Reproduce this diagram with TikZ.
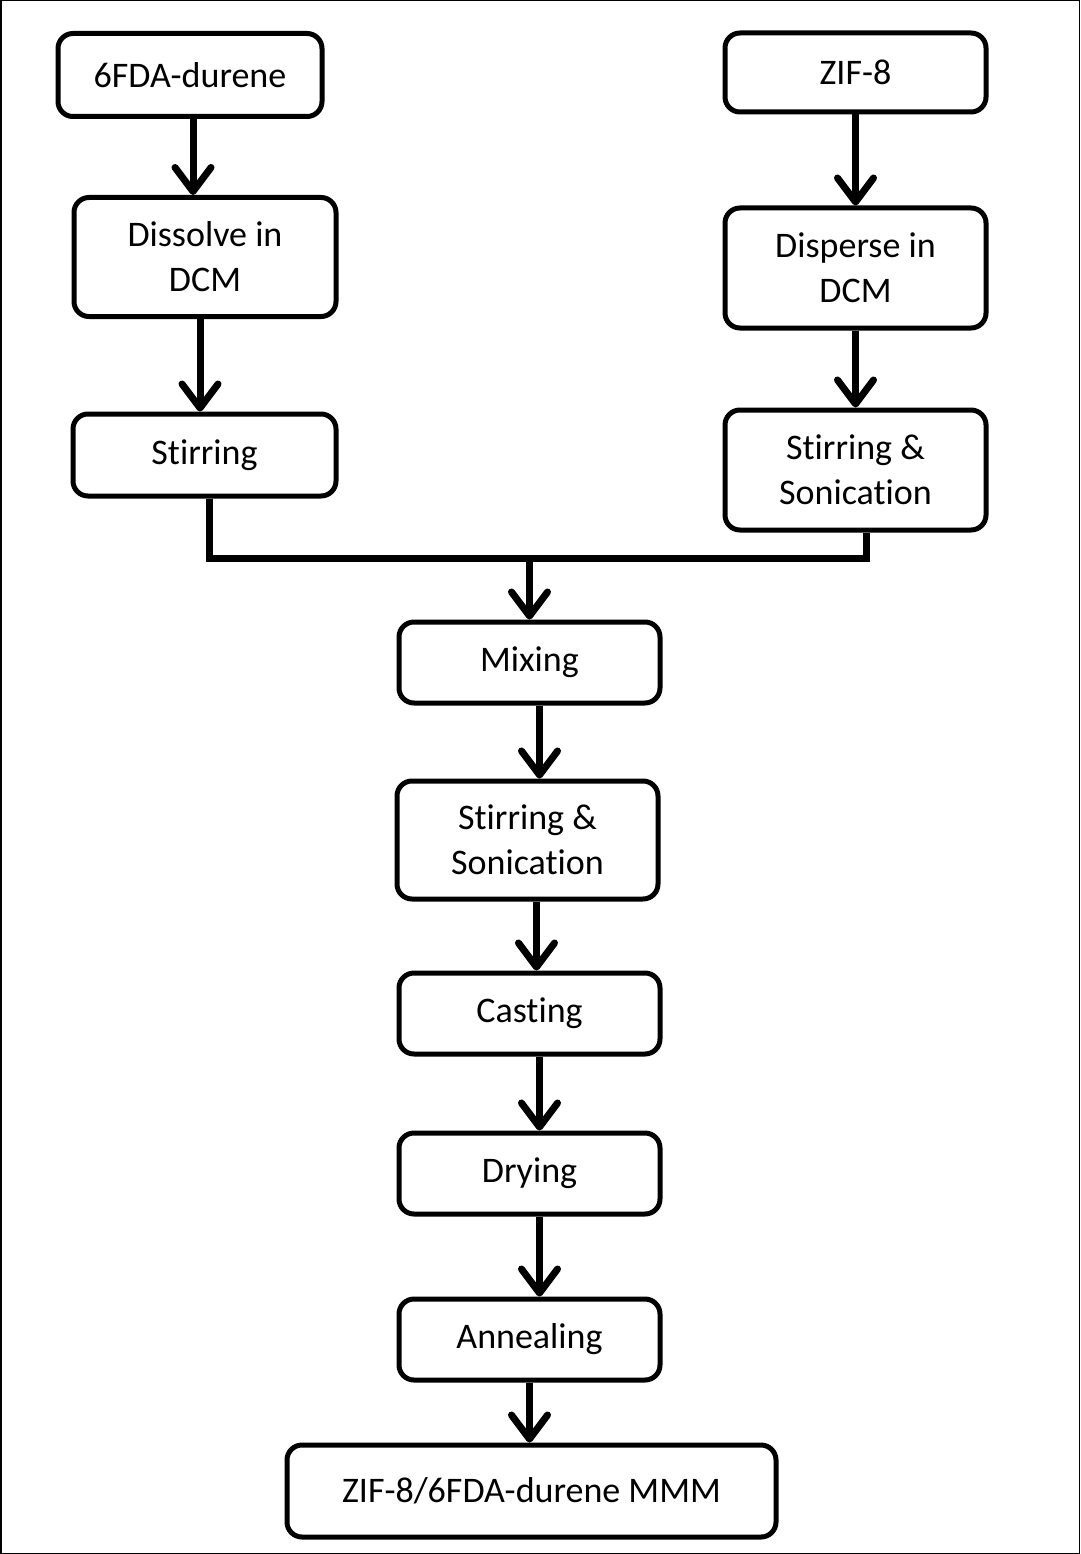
\documentclass[tikz,border=0pt]{standalone}
\usepackage{fontspec}
\setmainfont{Carlito}[Ligatures={NoCommon,NoRequired,NoContextual}]
\usetikzlibrary{arrows.meta}
% keep "t" and "i" as separate glyphs
\newcommand{\ti}{t\kern0pt i}
\tikzset{
  stage/.style={draw=black, line width=5pt, rounded corners=15pt, fill=white,
    align=center, inner sep=0pt,
    font=\fontsize{36}{45}\selectfont},
  flow/.style={line width=7pt, -{Straight Barb[length=24pt,width=36pt,line width=7pt,round]}},
  joint/.style={line width=7pt}
}
\begin{document}
\begin{tikzpicture}[x=1pt,y=-1pt]
  % page frame
  \draw[line width=1.5pt, fill=white] (0.75,0.75) rectangle (1079.25,1553.25);
  \useasboundingbox (0,0) rectangle (1080,1554);

  % polymer branch
  \node[stage, minimum width=264pt, minimum height=83pt] (fda) at (190,75) {6FDA-durene};
  \node[stage, minimum width=262pt, minimum height=119pt] (dis) at (205,257) {Dissolve in\\DCM};
  \node[stage, minimum width=263pt, minimum height=82pt] (stl) at (204.5,455) {S\ti rring};

  % filler branch
  \node[stage, minimum width=261pt, minimum height=79pt] (zif) at (855.5,72.5) {ZIF-8};
  \node[stage, minimum width=261pt, minimum height=120pt] (dsp) at (855.5,268) {Disperse in\\DCM};
  \node[stage, minimum width=261pt, minimum height=120pt] (ssr) at (855.5,470) {S\ti rring \&\\Sonica\ti on};

  % common route
  \node[stage, minimum width=261pt, minimum height=81pt] (mix) at (529.5,662.5) {Mixing};
  \node[stage, minimum width=261pt, minimum height=118pt] (ssm) at (527.5,840) {S\ti rring \&\\Sonica\ti on};
  \node[stage, minimum width=261pt, minimum height=81pt] (cast) at (529.5,1013.5) {Cas\ti ng};
  \node[stage, minimum width=261pt, minimum height=81pt] (dry) at (529.5,1173.5) {Drying};
  \node[stage, minimum width=261pt, minimum height=81pt] (ann) at (529.5,1339.5) {Annealing};
  \node[stage, minimum width=489pt, minimum height=92pt] (mmm) at (531.5,1491) {ZIF-8/6FDA-durene MMM};

  % connectors
  \draw[flow] ([xshift=3pt]fda.south) -- ([xshift=3pt]fda.south |- dis.north);
  \draw[flow] ([xshift=-5pt]dis.south) -- ([xshift=-5pt]dis.south |- stl.north);
  \draw[flow] (zif.south) -- (zif.south |- dsp.north);
  \draw[flow] (dsp.south) -- (dsp.south |- ssr.north);

  \coordinate (jl) at ([xshift=4.5pt]stl.south |- 0,558);
  \coordinate (jr) at ([xshift=10.5pt]ssr.south |- 0,558);
  \draw[joint] ([xshift=4.5pt]stl.south) -- (jl) -- (jr) -- ([xshift=10.5pt]ssr.south);
  \draw[flow] (jl -| mix.north) -- (mix.north);

  \draw[flow] ([xshift=10pt]mix.south) -- ([xshift=10pt]mix.south |- ssm.north);
  \draw[flow] ([xshift=9pt]ssm.south) -- ([xshift=9pt]ssm.south |- cast.north);
  \draw[flow] ([xshift=10pt]cast.south) -- ([xshift=10pt]cast.south |- dry.north);
  \draw[flow] ([xshift=10pt]dry.south) -- ([xshift=10pt]dry.south |- ann.north);
  \draw[flow] (ann.south) -- (ann.south |- mmm.north);
\end{tikzpicture}
\end{document}
